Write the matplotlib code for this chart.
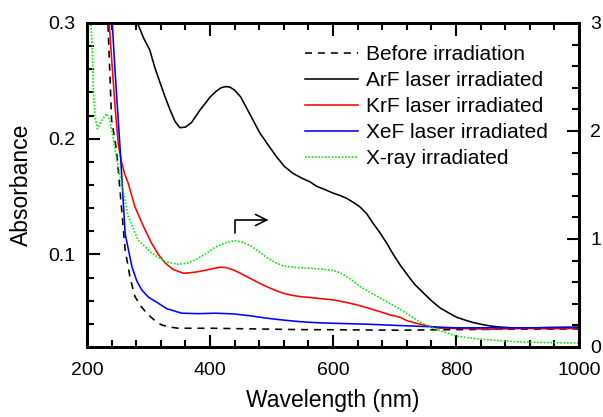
import matplotlib
matplotlib.use('Agg')
import matplotlib.pyplot as plt
from matplotlib.lines import Line2D
from matplotlib.ticker import MultipleLocator

plt.rcParams['font.family'] = ['Liberation Sans', 'DejaVu Sans']

# ---- data ----
wl_before = [230, 234, 240, 248, 254, 262, 270, 278, 288, 297, 310, 321, 335, 348, 375, 403, 450, 500, 546, 600, 650, 709, 760, 800, 850, 900, 950, 1000]
a_before = [0.34, 0.30, 0.216, 0.190, 0.153, 0.104, 0.080, 0.0635, 0.055, 0.0492, 0.043, 0.0391, 0.0372, 0.0362, 0.0362, 0.0362, 0.0358, 0.0354, 0.035, 0.0349, 0.0347, 0.0345, 0.0348, 0.035, 0.0352, 0.0355, 0.0355, 0.0356]

wl_arf = [276, 282, 292, 302, 310, 319, 327, 335, 343, 351, 360, 370, 384, 393, 400, 410, 418, 425, 432, 440, 450, 460, 470, 481, 494, 508, 521, 535, 549, 563, 573, 587, 600, 611, 622, 633, 644, 655, 665, 676, 687, 698, 709, 720, 733, 747, 760, 774, 788, 801, 815, 828, 842, 855, 870, 890, 909, 930, 950, 975, 1000]
a_arf = [0.32, 0.30, 0.287, 0.2767, 0.262, 0.248, 0.236, 0.225, 0.215, 0.2095, 0.210, 0.214, 0.225, 0.231, 0.236, 0.241, 0.244, 0.245, 0.2447, 0.242, 0.236, 0.226, 0.216, 0.205, 0.195, 0.1845, 0.176, 0.170, 0.166, 0.1626, 0.159, 0.156, 0.153, 0.151, 0.1485, 0.145, 0.141, 0.135, 0.127, 0.119, 0.110, 0.100, 0.091, 0.083, 0.074, 0.0667, 0.060, 0.0538, 0.0495, 0.0457, 0.0432, 0.0411, 0.0395, 0.0382, 0.0373, 0.0366, 0.0362, 0.0365, 0.0368, 0.0369, 0.0371]

wl_krf = [232, 236, 241, 246, 251, 256, 261, 267, 278, 292, 305, 316, 327, 340, 357, 370, 381, 395, 408, 416, 426, 438, 450, 465, 478, 492, 505, 519, 532, 546, 573, 600, 620, 639, 658, 676, 693, 709, 720, 733, 747, 760, 774, 801, 828, 855, 880, 909, 950, 996]
a_krf = [0.33, 0.30, 0.262, 0.225, 0.195, 0.180, 0.170, 0.1615, 0.141, 0.124, 0.1097, 0.100, 0.0926, 0.087, 0.0837, 0.0843, 0.0851, 0.0866, 0.0881, 0.0889, 0.0887, 0.0866, 0.0835, 0.0794, 0.0758, 0.0722, 0.0692, 0.0665, 0.0648, 0.0636, 0.0622, 0.0607, 0.0587, 0.0564, 0.0535, 0.0506, 0.0477, 0.0457, 0.0428, 0.0408, 0.0391, 0.0375, 0.0362, 0.036, 0.0358, 0.0352, 0.0357, 0.036, 0.0358, 0.036]

wl_xef = [236, 241, 246, 254, 262, 273, 281, 289, 300, 316, 330, 354, 380, 408, 438, 465, 492, 520, 546, 573, 600, 655, 709, 760, 801, 855, 909, 960, 996]
a_xef = [0.34, 0.30, 0.255, 0.19, 0.118, 0.0894, 0.077, 0.0693, 0.063, 0.0578, 0.053, 0.0492, 0.0488, 0.0492, 0.0486, 0.047, 0.0449, 0.0432, 0.0419, 0.041, 0.0405, 0.0397, 0.0385, 0.0375, 0.0365, 0.0366, 0.0365, 0.0368, 0.037]

wl_xray = [205, 206.5, 208.7, 210, 213, 217, 224, 232, 237, 243, 248, 256, 267, 283, 305, 327, 348, 362, 376, 392, 408, 425, 441, 453, 465, 478, 492, 505, 519, 532, 546, 565, 584, 598, 611, 628, 644, 662, 681, 693, 709, 725, 740, 758, 780, 801, 828, 855, 880, 909, 950, 990, 1000]
r_xray = [3.2, 3.0, 2.72, 2.41, 2.13, 2.02, 2.10, 2.16, 2.10, 1.92, 1.75, 1.52, 1.21, 0.99, 0.87, 0.79, 0.766, 0.775, 0.806, 0.86, 0.923, 0.965, 0.985, 0.97, 0.94, 0.89, 0.83, 0.785, 0.75, 0.74, 0.735, 0.728, 0.72, 0.71, 0.69, 0.63, 0.56, 0.50, 0.44, 0.40, 0.35, 0.29, 0.235, 0.185, 0.14, 0.10, 0.08, 0.065, 0.055, 0.046, 0.041, 0.037, 0.037]

labels = ['Before irradiation', 'ArF laser irradiated', 'KrF laser irradiated',
          'XeF laser irradiated', 'X-ray irradiated']

# ---- figure ----
fig = plt.figure(figsize=(6.03, 4.17), dpi=100)
ax = fig.add_axes([0.1443, 0.1679, 0.8159, 0.7770])
ax2 = ax.twinx()

lw = 1.15
ax.plot(wl_before, a_before, color='black', lw=lw, linestyle=(0, (4.4, 3.7)))
ax.plot(wl_arf, a_arf, color='black', lw=lw)
ax.plot(wl_krf, a_krf, color='#ff0000', lw=lw)
ax.plot(wl_xef, a_xef, color='#0000ff', lw=lw)
ax2.plot(wl_xray, r_xray, color='#00ee00', lw=1.2, linestyle=(0, (1.0, 1.0)))

ax.set_xlim(200, 1000)
ax.set_ylim(0.02, 0.3)
ax2.set_ylim(0, 3)

ax.xaxis.set_major_locator(MultipleLocator(200))
ax.xaxis.set_minor_locator(MultipleLocator(40))
ax.yaxis.set_minor_locator(MultipleLocator(0.02))
ax2.yaxis.set_minor_locator(MultipleLocator(0.2))

ax.set_yticks([0.1, 0.2, 0.3])
ax.set_yticklabels(['0.1', '0.2', '0.3'])
ax2.set_yticks([0, 1, 2, 3])
ax2.set_yticklabels(['0', '1', '2', '3'])

ax.tick_params(axis='both', which='both', direction='in', top=True, right=False,
               width=1.5, labelsize=14)
ax.tick_params(which='major', length=9)
ax.tick_params(which='minor', length=5)
ax.tick_params(axis='x', pad=11)
ax.tick_params(axis='y', pad=8.5)
ax2.tick_params(axis='y', which='both', direction='in', right=True, left=False,
                width=1.5, labelsize=14, pad=8)
ax2.tick_params(axis='y', which='major', length=9)
ax2.tick_params(axis='y', which='minor', length=5)

for a in (ax, ax2):
    for s in a.spines.values():
        s.set_linewidth(2)

ax.set_xlabel('Wavelength (nm)', fontsize=16.5, labelpad=7)
ax.set_ylabel('Absorbance', fontsize=16.5, labelpad=11)

# arrow indicating X-ray curve -> right axis
ax2.annotate('', xy=(495, 1.176), xytext=(441, 1.056),
             arrowprops=dict(arrowstyle='->,head_length=0.8,head_width=0.4',
                             connectionstyle='angle,angleA=90,angleB=0,rad=0',
                             lw=1.2, color='black', shrinkA=0, shrinkB=0))

handles = [
    Line2D([], [], color='black', lw=lw, linestyle=(0, (4.4, 3.7))),
    Line2D([], [], color='black', lw=lw),
    Line2D([], [], color='#ff0000', lw=lw),
    Line2D([], [], color='#0000ff', lw=lw),
    Line2D([], [], color='#00ee00', lw=1.2, linestyle=(0, (1.0, 1.0))),
]
leg = ax2.legend(handles, labels, loc='upper left', bbox_to_anchor=(0.443, 0.931),
                 frameon=False, fontsize=15, handlelength=2.55, handletextpad=0.4,
                 labelspacing=0.33, borderaxespad=0, borderpad=0)

fig.savefig('out.png', dpi=100)
